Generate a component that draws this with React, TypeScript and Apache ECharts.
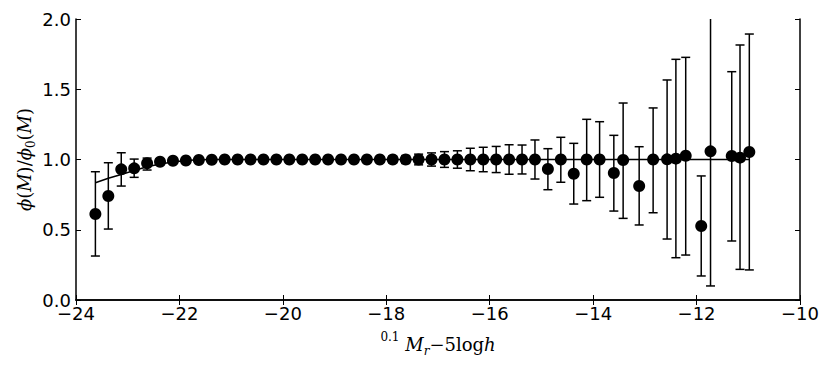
import React, { useEffect, useRef } from "react";
import * as echarts from "echarts";

const magnitudes = [
  -23.625, -23.375, -23.125, -22.875, -22.625, -22.375, -22.125, -21.875, -21.625, -21.375,
  -21.125, -20.875, -20.625, -20.375, -20.125, -19.875, -19.625, -19.375, -19.125, -18.875,
  -18.625, -18.375, -18.125, -17.875, -17.625, -17.375, -17.125, -16.875, -16.625, -16.375,
  -16.125, -15.875, -15.625, -15.375, -15.125, -14.875, -14.625, -14.375, -14.125, -13.875,
  -13.6, -13.42, -13.11, -12.84, -12.57, -12.4, -12.21, -11.91, -11.73, -11.32, -11.16, -10.98,
];

const ratio = [
  0.612, 0.74, 0.93, 0.937, 0.973, 0.984, 0.991, 0.993, 0.996, 0.998,
  1.0, 1.0, 1.0, 1.0, 1.0, 1.0, 1.0, 1.0, 1.0, 1.0,
  1.0, 1.0, 1.0, 1.0, 1.0, 1.0, 1.0, 1.0, 1.0, 1.0,
  1.0, 1.0, 1.0, 1.0, 1.0, 0.932, 1.0, 0.899, 1.0, 1.0,
  0.904, 0.996, 0.811, 1.0, 1.001, 1.006, 1.027, 0.527, 1.058, 1.025, 1.013, 1.053,
];

const errUpper = [
  0.913, 0.977, 1.048, 1.003, 1.01, 1.005, 1.008, 1.008, 1.008, 1.01,
  1.01, 1.01, 1.01, 1.01, 1.01, 1.01, 1.012, 1.012, 1.013, 1.014,
  1.016, 1.018, 1.02, 1.024, 1.028, 1.038, 1.047, 1.056, 1.062, 1.08,
  1.087, 1.093, 1.105, 1.103, 1.139, 1.077, 1.158, 1.115, 1.286, 1.269,
  1.172, 1.402, 1.091, 1.367, 1.566, 1.713, 1.727, 0.883, 2.5, 1.625, 1.815, 1.893,
];

const errLower = [
  0.313, 0.505, 0.811, 0.873, 0.925, 0.963, 0.975, 0.978, 0.985, 0.988,
  0.99, 0.99, 0.99, 0.99, 0.99, 0.99, 0.988, 0.988, 0.987, 0.986,
  0.984, 0.982, 0.98, 0.976, 0.972, 0.962, 0.953, 0.944, 0.938, 0.92,
  0.913, 0.907, 0.895, 0.897, 0.861, 0.785, 0.838, 0.683, 0.707, 0.731,
  0.633, 0.581, 0.534, 0.621, 0.434, 0.301, 0.32, 0.171, 0.1, 0.42, 0.218, 0.214,
];

const model = [
  0.835, 0.866, 0.893, 0.922, 0.948, 0.968, 0.983, 0.993, 0.998, 1.0,
  1.0, 1.0, 1.0, 1.0, 1.0, 1.0, 1.0, 1.0, 1.0, 1.0,
  1.0, 1.0, 1.0, 1.0, 1.0, 1.0, 1.0, 1.0, 1.0, 1.0,
  1.0, 1.0, 1.0, 1.0, 1.0, 1.0, 1.0, 1.0, 1.0, 1.0,
  1.0, 1.0, 1.0, 1.0, 1.0, 1.0, 1.0, 1.0, 1.0, 1.0, 1.0, 1.0,
];

const X_MIN = -24;
const X_MAX = -10;
const Y_MIN = 0;
const Y_MAX = 2;

const fmtX = (v: number) => (v < 0 ? "\u2212" + Math.abs(v) : String(v));
const fmtY = (v: number) => v.toFixed(1);

export default function App() {
  const ref = useRef<HTMLDivElement>(null);
  useEffect(() => {
    if (!ref.current) return;
    const chart = echarts.init(ref.current, null, { renderer: "svg" });
    const tickStyle = { inside: true, length: 5, lineStyle: { color: "#000", width: 1 } };
    const lineStyle = { show: true, lineStyle: { color: "#000", width: 1.5 } };
    const labelFont = { fontFamily: "DejaVu Sans", fontSize: 18, color: "#000" };
    const serif = { fontFamily: "DejaVu Serif", fontSize: 18, color: "#000" };
    const italic = { ...serif, fontStyle: "italic" };

    chart.setOption({
      animation: false,
      backgroundColor: "#fff",
      grid: { left: 76, right: 31, top: 19, bottom: 66, containLabel: false },
      xAxis: [
        {
          type: "value",
          min: X_MIN,
          max: X_MAX,
          interval: 2,
          position: "bottom",
          axisLine: lineStyle,
          axisTick: tickStyle,
          splitLine: { show: false },
          axisLabel: { ...labelFont, margin: 4, formatter: fmtX },
          name: "{sup|0.1}{i| M}{sub|r}{n|\u22125log}{i|h}",
          nameLocation: "middle",
          nameGap: 31,
          nameTextStyle: {
            rich: {
              sup: { ...serif, fontSize: 12, verticalAlign: "top", lineHeight: 26 },
              i: { ...italic, lineHeight: 26 },
              sub: { ...italic, fontSize: 12, verticalAlign: "bottom", lineHeight: 12 },
              n: { ...serif, lineHeight: 26 },
            },
          },
        },
        {
          type: "value",
          min: X_MIN,
          max: X_MAX,
          interval: 2,
          position: "top",
          axisLine: lineStyle,
          axisTick: tickStyle,
          splitLine: { show: false },
          axisLabel: { show: false },
        },
      ],
      yAxis: [
        {
          type: "value",
          min: Y_MIN,
          max: Y_MAX,
          interval: 0.5,
          position: "left",
          axisLine: lineStyle,
          axisTick: tickStyle,
          splitLine: { show: false },
          axisLabel: { ...labelFont, margin: 5, formatter: fmtY },
          name: "{i|\u03d5}{n|(}{i|M}{n|)/}{i|\u03d5}{sub|0}{n|(}{i|M}{n|)}",
          nameLocation: "middle",
          nameGap: 39,
          nameMoveOverlap: false,
          nameRotate: 90,
          nameTextStyle: {
            rich: {
              i: { ...italic, lineHeight: 26 },
              sub: { ...serif, fontSize: 12, verticalAlign: "bottom", lineHeight: 12 },
              n: { ...serif, lineHeight: 26 },
            },
          },
        },
        {
          type: "value",
          min: Y_MIN,
          max: Y_MAX,
          interval: 0.5,
          position: "right",
          axisLine: lineStyle,
          axisTick: tickStyle,
          splitLine: { show: false },
          axisLabel: { show: false },
        },
      ],
      series: [
        {
          type: "custom",
          xAxisIndex: 0,
          yAxisIndex: 0,
          data: magnitudes.map((m, i) => [m, ratio[i], errLower[i], errUpper[i]]),
          encode: { x: 0, y: 1 },
          z: 2,
          renderItem: (params: any, api: any) => {
            const x = api.value(0);
            const lo = api.value(2);
            const hi = api.value(3);
            const hiC = Math.min(hi, Y_MAX);
            const loC = Math.max(lo, Y_MIN);
            const pLo = api.coord([x, loC]);
            const pHi = api.coord([x, hiC]);
            const cap = 4.5;
            const st = { stroke: "#000", lineWidth: 1.5 };
            const children: any[] = [
              { type: "line", shape: { x1: pLo[0], y1: pLo[1], x2: pHi[0], y2: pHi[1] }, style: st },
            ];
            if (lo >= Y_MIN)
              children.push({ type: "line", shape: { x1: pLo[0] - cap, y1: pLo[1], x2: pLo[0] + cap, y2: pLo[1] }, style: st });
            if (hi <= Y_MAX)
              children.push({ type: "line", shape: { x1: pHi[0] - cap, y1: pHi[1], x2: pHi[0] + cap, y2: pHi[1] }, style: st });
            return { type: "group", children };
          },
        },
        {
          type: "line",
          xAxisIndex: 0,
          yAxisIndex: 0,
          data: magnitudes.map((m, i) => [m, model[i]]),
          showSymbol: false,
          symbol: "none",
          lineStyle: { color: "#000", width: 1.5 },
          z: 3,
        },
        {
          type: "scatter",
          xAxisIndex: 0,
          yAxisIndex: 0,
          data: magnitudes.map((m, i) => [m, ratio[i]]),
          symbol: "circle",
          symbolSize: 12,
          itemStyle: { color: "#000", opacity: 1 },
          z: 4,
        },
      ],
    });
    return () => chart.dispose();
  }, []);
  return (
    <div
      ref={ref}
      style={{ position: "absolute", left: 0, top: 0, width: 831, height: 366, background: "#fff" }}
    />
  );
}
